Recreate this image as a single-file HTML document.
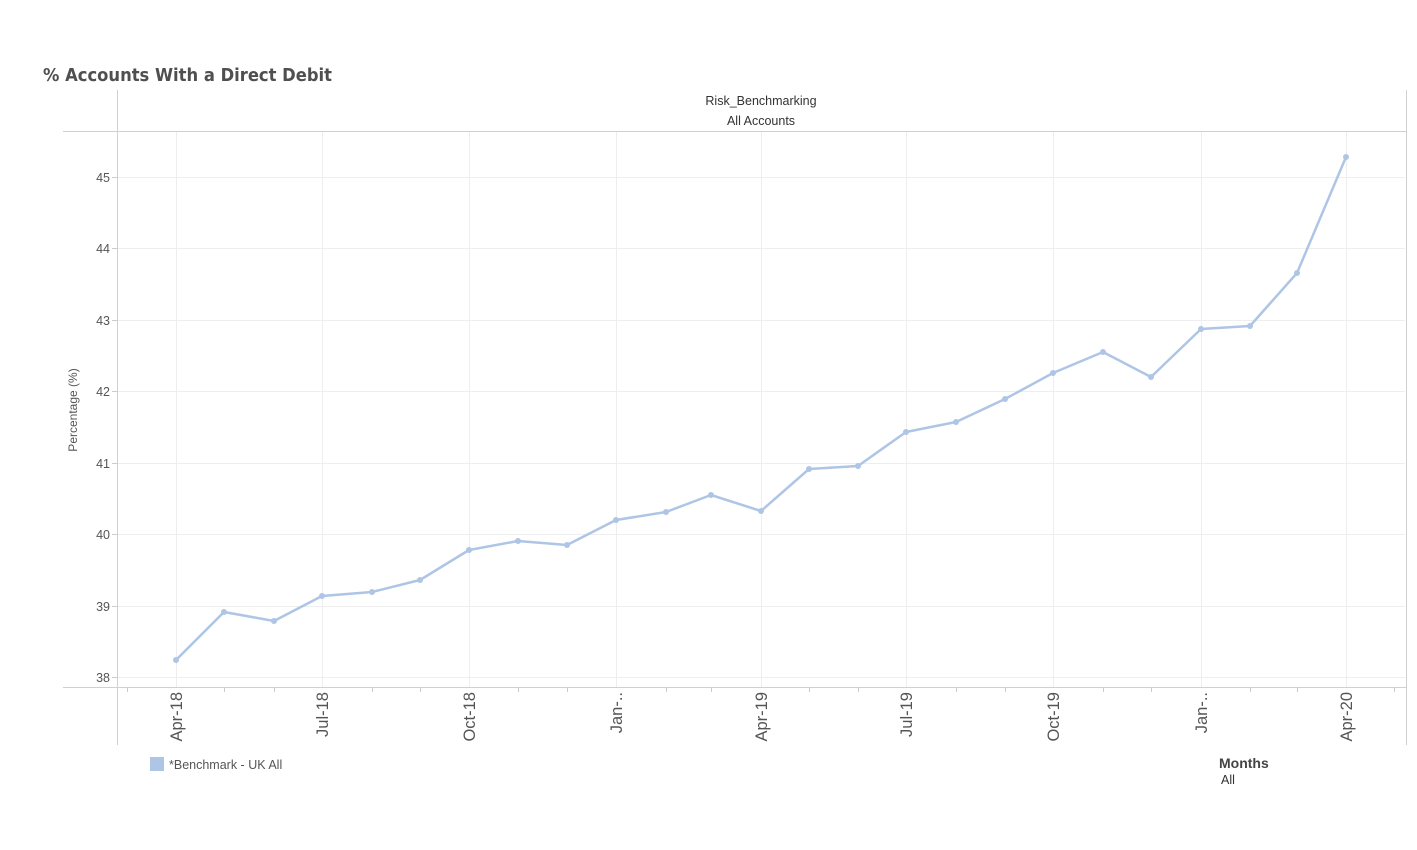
<!DOCTYPE html>
<html><head><meta charset="utf-8"><style>
body{margin:0;background:#fff;}
svg{display:block;font-family:"Liberation Sans",sans-serif;}
</style></head><body>
<svg width="1417" height="850" viewBox="0 0 1417 850" xmlns="http://www.w3.org/2000/svg">
<rect width="1417" height="850" fill="#fff"/>
<text x="43" y="81" font-family="DejaVu Sans,Liberation Sans,sans-serif" font-weight="bold" font-size="17.5" fill="#4f4f4f" textLength="289" lengthAdjust="spacingAndGlyphs">% Accounts With a Direct Debit</text>
<text x="761" y="105" font-size="12.5" fill="#333" text-anchor="middle">Risk_Benchmarking</text>
<text x="761" y="125" font-size="12.5" fill="#333" text-anchor="middle">All Accounts</text>
<g stroke="#eeeeee" stroke-width="1">
<line x1="117" y1="177.5" x2="1405" y2="177.5"/><line x1="117" y1="248.5" x2="1405" y2="248.5"/>
<line x1="117" y1="320.5" x2="1405" y2="320.5"/><line x1="117" y1="391.5" x2="1405" y2="391.5"/>
<line x1="117" y1="463.5" x2="1405" y2="463.5"/><line x1="117" y1="534.5" x2="1405" y2="534.5"/>
<line x1="117" y1="606.5" x2="1405" y2="606.5"/><line x1="117" y1="677.5" x2="1405" y2="677.5"/>
<line x1="176.5" y1="131" x2="176.5" y2="687"/><line x1="322.5" y1="131" x2="322.5" y2="687"/>
<line x1="469.5" y1="131" x2="469.5" y2="687"/><line x1="616.5" y1="131" x2="616.5" y2="687"/>
<line x1="761.5" y1="131" x2="761.5" y2="687"/><line x1="906.5" y1="131" x2="906.5" y2="687"/>
<line x1="1053.5" y1="131" x2="1053.5" y2="687"/><line x1="1201.5" y1="131" x2="1201.5" y2="687"/>
<line x1="1346.5" y1="131" x2="1346.5" y2="687"/>
</g>
<g stroke="#d0d0d0" stroke-width="1">
<line x1="63" y1="131.5" x2="1406" y2="131.5"/>
<line x1="63" y1="687.5" x2="1406" y2="687.5"/>
<line x1="117.5" y1="90" x2="117.5" y2="745"/>
<line x1="1406.5" y1="90" x2="1406.5" y2="745"/>
</g>
<g stroke="#ccc" stroke-width="1">
<line x1="127.5" y1="688" x2="127.5" y2="692"/><line x1="224.5" y1="688" x2="224.5" y2="692"/><line x1="274.5" y1="688" x2="274.5" y2="692"/>
<line x1="372.5" y1="688" x2="372.5" y2="692"/><line x1="420.5" y1="688" x2="420.5" y2="692"/><line x1="518.5" y1="688" x2="518.5" y2="692"/>
<line x1="567.5" y1="688" x2="567.5" y2="692"/><line x1="666.5" y1="688" x2="666.5" y2="692"/><line x1="711.5" y1="688" x2="711.5" y2="692"/>
<line x1="809.5" y1="688" x2="809.5" y2="692"/><line x1="858.5" y1="688" x2="858.5" y2="692"/><line x1="956.5" y1="688" x2="956.5" y2="692"/>
<line x1="1005.5" y1="688" x2="1005.5" y2="692"/><line x1="1103.5" y1="688" x2="1103.5" y2="692"/><line x1="1151.5" y1="688" x2="1151.5" y2="692"/>
<line x1="1250.5" y1="688" x2="1250.5" y2="692"/><line x1="1297.5" y1="688" x2="1297.5" y2="692"/><line x1="1394.5" y1="688" x2="1394.5" y2="692"/>
<line x1="112" y1="177.5" x2="117" y2="177.5"/><line x1="112" y1="248.5" x2="117" y2="248.5"/>
<line x1="112" y1="320.5" x2="117" y2="320.5"/><line x1="112" y1="391.5" x2="117" y2="391.5"/>
<line x1="112" y1="463.5" x2="117" y2="463.5"/><line x1="112" y1="534.5" x2="117" y2="534.5"/>
<line x1="112" y1="606.5" x2="117" y2="606.5"/><line x1="112" y1="677.5" x2="117" y2="677.5"/>
</g>
<g font-size="12.5" fill="#555" text-anchor="end">
<text x="110" y="182">45</text><text x="110" y="253">44</text><text x="110" y="325">43</text>
<text x="110" y="396">42</text><text x="110" y="468">41</text><text x="110" y="539">40</text>
<text x="110" y="611">39</text><text x="110" y="682">38</text>
</g>
<text transform="translate(77,410) rotate(-90)" font-size="12" fill="#555" text-anchor="middle">Percentage (%)</text>
<g font-size="16.5" fill="#555" text-anchor="end">
<text transform="translate(182,692) rotate(-90)">Apr-18</text>
<text transform="translate(328,692) rotate(-90)">Jul-18</text>
<text transform="translate(475,692) rotate(-90)">Oct-18</text>
<text transform="translate(622,692) rotate(-90)">Jan-..</text>
<text transform="translate(767,692) rotate(-90)">Apr-19</text>
<text transform="translate(912,692) rotate(-90)">Jul-19</text>
<text transform="translate(1059,692) rotate(-90)">Oct-19</text>
<text transform="translate(1207,692) rotate(-90)">Jan-..</text>
<text transform="translate(1352,692) rotate(-90)">Apr-20</text>
</g>
<polyline fill="none" stroke="#aec5e6" stroke-width="2.5" stroke-linejoin="round"
points="176,660 224,612 274,621 322,596 372,592 420,580 469,550 518,541 567,545 616,520 666,512 711,495 761,511 809,469 858,466 906,432 956,422 1005,399 1053,373 1103,352 1151,377 1201,329 1250,326 1297,273 1346,157"/>
<g fill="#aec5e6">
<circle cx="176" cy="660" r="3"/><circle cx="224" cy="612" r="3"/><circle cx="274" cy="621" r="3"/><circle cx="322" cy="596" r="3"/><circle cx="372" cy="592" r="3"/><circle cx="420" cy="580" r="3"/><circle cx="469" cy="550" r="3"/><circle cx="518" cy="541" r="3"/><circle cx="567" cy="545" r="3"/><circle cx="616" cy="520" r="3"/><circle cx="666" cy="512" r="3"/><circle cx="711" cy="495" r="3"/><circle cx="761" cy="511" r="3"/><circle cx="809" cy="469" r="3"/><circle cx="858" cy="466" r="3"/><circle cx="906" cy="432" r="3"/><circle cx="956" cy="422" r="3"/><circle cx="1005" cy="399" r="3"/><circle cx="1053" cy="373" r="3"/><circle cx="1103" cy="352" r="3"/><circle cx="1151" cy="377" r="3"/><circle cx="1201" cy="329" r="3"/><circle cx="1250" cy="326" r="3"/><circle cx="1297" cy="273" r="3"/><circle cx="1346" cy="157" r="3"/>
</g>
<rect x="150" y="757" width="14" height="14" fill="#aec5e6"/>
<text x="169" y="769" font-size="12.5" fill="#555">*Benchmark - UK All</text>
<text x="1219" y="768" font-size="14" font-weight="bold" fill="#444">Months</text>
<text x="1221" y="784" font-size="12.5" fill="#333">All</text>
</svg>
</body></html>
